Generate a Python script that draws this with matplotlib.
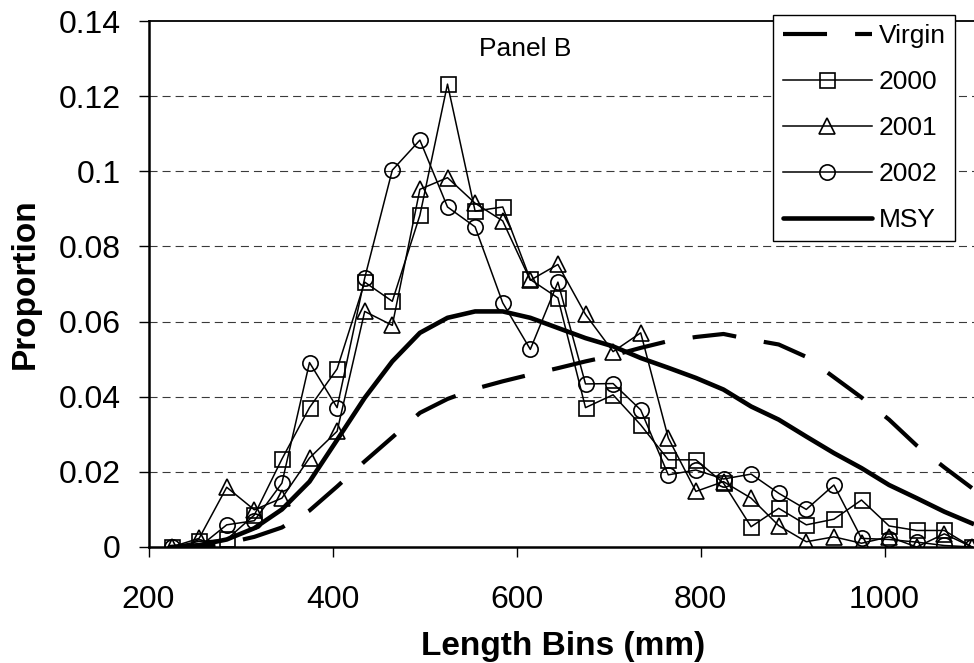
import matplotlib
matplotlib.use("Agg")
import matplotlib.pyplot as plt
from matplotlib.lines import Line2D

plt.rcParams['font.family'] = ['Liberation Sans', 'DejaVu Sans']
plt.rcParams['lines.scale_dashes'] = False

# Length bins (mm) and proportions at length
bins = [225, 255, 285, 315, 345, 375, 405, 435, 465, 495, 525, 555, 585, 615, 645,
        675, 705, 735, 765, 795, 825, 855, 885, 915, 945, 975, 1005, 1035, 1065, 1095]

virgin = [0, 0, 0.001, 0.0027, 0.0052, 0.0097, 0.0161, 0.0228, 0.0292, 0.0357,
          0.0394, 0.0421, 0.0441, 0.0459, 0.0476, 0.0494, 0.051, 0.053, 0.0548, 0.0559,
          0.0567, 0.0552, 0.0539, 0.0506, 0.0452, 0.0398, 0.0339, 0.027, 0.0212, 0.0157]

y2000 = [0, 0.0015, 0.002, 0.0085, 0.0234, 0.0371, 0.0474, 0.0705, 0.0654, 0.0883,
         0.1232, 0.0894, 0.0905, 0.0712, 0.0663, 0.0371, 0.0405, 0.0325, 0.0232, 0.0232,
         0.017, 0.0054, 0.0103, 0.0059, 0.0074, 0.0125, 0.0056, 0.0044, 0.0044, 0.0]

y2001 = [0, 0.0023, 0.0159, 0.0099, 0.013, 0.0237, 0.0308, 0.0627, 0.059, 0.0952,
         0.0983, 0.0915, 0.0868, 0.071, 0.0752, 0.0619, 0.052, 0.057, 0.029, 0.0148,
         0.0174, 0.013, 0.0057, 0.0014, 0.0027, 0.001, 0.0027, 0.0, 0.0035, 0.0]

y2002 = [0, 0, 0.0059, 0.007, 0.017, 0.0491, 0.0371, 0.0716, 0.1003, 0.1083,
         0.0905, 0.0852, 0.065, 0.0526, 0.0705, 0.0434, 0.0435, 0.0365, 0.0192, 0.0205,
         0.0181, 0.0194, 0.0143, 0.010, 0.0165, 0.0023, 0.002, 0.0013, 0.0004, 0.0]

msy = [0, 0.0005, 0.002, 0.005, 0.010, 0.0174, 0.0285, 0.0397, 0.0494, 0.057,
       0.061, 0.0627, 0.0627, 0.061, 0.0583, 0.0556, 0.0534, 0.0503, 0.0477, 0.045,
       0.0419, 0.0374, 0.0339, 0.0294, 0.025, 0.021, 0.0165, 0.013, 0.0094, 0.0063]

xticks = [200, 400, 600, 800, 1000]
yticks = [0, 0.02, 0.04, 0.06, 0.08, 0.10, 0.12, 0.14]
ytick_labels = ['0', '0.02', '0.04', '0.06', '0.08', '0.1', '0.12', '0.14']

fig = plt.figure(figsize=(9.74, 6.63), dpi=100)
ax = fig.add_axes([148.5 / 974, 116 / 663, 828 / 974, 526 / 663])

ax.set_xlim(200, 1100)
ax.set_ylim(0, 0.14)

# horizontal dashed gridlines
for yv in yticks[1:-1]:
    ax.axhline(yv, color='#3a3a3a', lw=0.8, dashes=(5.8, 3.6), zorder=1)

mk = dict(color='black', lw=1.1, markerfacecolor='none', markeredgecolor='black',
          markeredgewidth=1.2, zorder=3)
ax.plot(bins, virgin, color='black', lw=3.0, dashes=(31.7, 20.2),
        solid_capstyle='butt', dash_capstyle='butt', zorder=2)
ax.plot(bins, y2000, marker='s', markersize=10.8, **mk)
ax.plot(bins, y2001, marker='^', markersize=12, **mk)
ax.plot(bins, y2002, marker='o', markersize=11, **mk)
ax.plot(bins, msy, color='black', lw=3.3, solid_joinstyle='round', zorder=2)

ax.set_xticks(xticks)
ax.set_xticklabels([str(v) for v in xticks])
ax.set_yticks(yticks)
ax.set_yticklabels(ytick_labels)
ax.tick_params(axis='both', direction='out', length=7, width=1, colors='black',
               labelsize=23)
ax.tick_params(axis='y', pad=13)
ax.tick_params(axis='x', pad=20)

for side in ['left', 'bottom']:
    ax.spines[side].set_linewidth(1.8)
ax.spines['top'].set_linewidth(1.3)
ax.spines['right'].set_visible(False)

fig.text(25 / 974, 1 - 284 / 663, 'Proportion', rotation=90, ha='center',
         va='center', fontsize=24, fontweight='bold')
fig.text(563 / 974, 1 - 646 / 663, 'Length Bins (mm)', ha='center', va='center',
         fontsize=24, fontweight='bold')

ax.text(609, 0.1325, 'Panel B', ha='center', va='center', fontsize=19)

handles = [
    Line2D([], [], color='black', lw=3.0, dashes=(31.7, 20.2), dash_capstyle='butt'),
    Line2D([], [], color='black', lw=1.1, marker='s', markersize=10.8,
           markerfacecolor='none', markeredgewidth=1.2),
    Line2D([], [], color='black', lw=1.1, marker='^', markersize=12,
           markerfacecolor='none', markeredgewidth=1.2),
    Line2D([], [], color='black', lw=1.1, marker='o', markersize=11,
           markerfacecolor='none', markeredgewidth=1.2),
    Line2D([], [], color='black', lw=3.3, solid_capstyle='round'),
]
labels = ['Virgin', '2000', '2001', '2002', 'MSY']
leg = ax.legend(handles, labels, loc='upper left',
                bbox_to_anchor=(773.3 / 974, 1 - 15 / 663),
                bbox_transform=fig.transFigure, borderaxespad=0,
                fontsize=19, handlelength=3.4, handletextpad=0.25,
                labelspacing=0.83, borderpad=0.35, fancybox=False,
                framealpha=1, edgecolor='black')
leg.get_frame().set_linewidth(1.0)
leg.set_zorder(5)

fig.savefig('out.png', dpi=100)
